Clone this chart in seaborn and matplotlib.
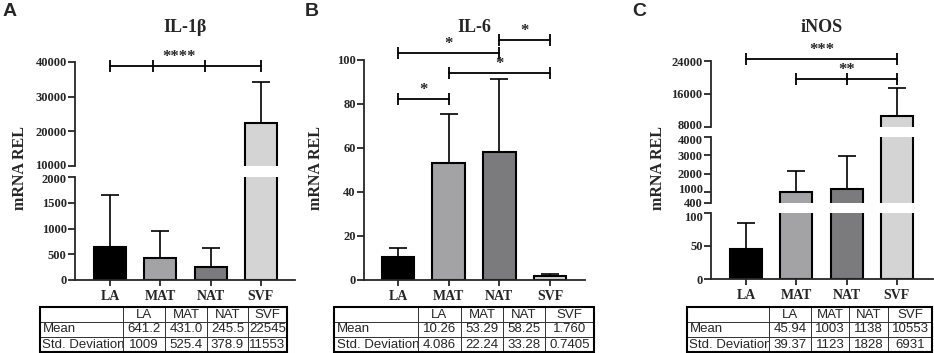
import numpy as np
import matplotlib
matplotlib.use("Agg")
import matplotlib.pyplot as plt
from matplotlib.patches import Rectangle
from matplotlib.transforms import ScaledTranslation
import seaborn as sns

groups = ["LA", "MAT", "NAT", "SVF"]
bar_colors = ["#000000", "#a3a3a7", "#7b7b7d", "#d4d4d4"]

il1b_mean = [641.2, 431.0, 245.5, 22545]
il1b_sd = [1009, 525.4, 378.9, 11553]
il6_mean = [10.26, 53.29, 58.25, 1.760]
il6_sd = [4.086, 22.24, 33.28, 0.7405]
inos_mean = [45.94, 1003, 1138, 10553]
inos_sd = [39.37, 1123, 1828, 6931]

W, H = 934, 353
LW = 1.3
SERIF = ["Liberation Serif", "DejaVu Serif"]
SANS = ["Liberation Sans", "DejaVu Sans"]

sns.set_style("ticks")
plt.rcParams["font.family"] = SERIF
plt.rcParams["font.weight"] = "bold"

fig = plt.figure(figsize=(W / 100, H / 100), dpi=100)


def rect(l, t, r, b):
    # pixel box (from top-left) -> figure fraction
    return [l / W, 1 - b / H, (r - l) / W, (b - t) / H]


def fmt(v):
    return str(int(round(v))) if v >= 1000 else f"{v:#.4g}"


def segment(box, xlim, means, sds, ylim, yticks, bottom):
    ax = fig.add_axes(rect(*box))
    sns.barplot(x=groups, y=means, hue=groups, palette=bar_colors, width=0.64,
                edgecolor="black", linewidth=1.5, legend=False, ax=ax)
    ax.errorbar(np.arange(4), means, yerr=[np.zeros(4), sds], fmt="none",
                ecolor="black", elinewidth=1.2, capsize=6.5, capthick=1.2, zorder=1)
    ax.set_yticks(yticks)
    ax.set_yticklabels([str(t) for t in yticks])
    ax.set_xlabel("")
    ax.set_ylabel("")
    ax.spines[["top", "right"]].set_visible(False)
    for s in ["left", "bottom"]:
        ax.spines[s].set_linewidth(LW)
    ax.tick_params(axis="y", length=5, width=LW, pad=1, labelsize=9)
    if bottom:
        ax.tick_params(axis="x", length=4.5, width=LW, pad=3, labelsize=10)
    else:
        ax.spines["bottom"].set_visible(False)
        ax.tick_params(axis="x", bottom=False, labelbottom=False)
    ax.patch.set_alpha(0)
    ax.set_xlim(xlim)
    ax.set_ylim(ylim)
    return ax


def nudge(ax, idx, dy):
    # shift one y tick label by dy pixels (positive = up)
    lab = ax.yaxis.get_major_ticks()[idx].label1
    lab.set_transform(lab.get_transform() + ScaledTranslation(0, dy / 100, fig.dpi_scale_trans))


def bracket(ax, x0, x1, y, stars, xs, inner=()):
    ax.plot([x0, x1], [y, y], color="black", lw=LW, clip_on=False)
    xm = [x0, x1, *inner]
    ax.plot(xm, [y] * len(xm), ls="none", marker="|", ms=8, mew=LW,
            color="black", clip_on=False)
    ax.annotate(stars, (xs, y), xytext=(0, 0.5), textcoords="offset points",
                ha="center", va="bottom", fontsize=12, fontweight="bold",
                annotation_clip=False)


def table(l, edges, means, sds):
    r = edges[-1]
    ax = fig.add_axes(rect(l, 307, r, 352))
    ax.axis("off")
    widths = list(np.diff(edges) / (r - l))
    cells = [[""] + groups,
             ["Mean"] + [fmt(v) for v in means],
             ["Std. Deviation"] + [fmt(v) for v in sds]]
    tb = ax.table(cellText=cells, colWidths=widths, cellLoc="center", bbox=[0, 0, 1, 1])
    tb.auto_set_font_size(False)
    tb.set_fontsize(9.5)
    for (i, j), cell in tb.get_celld().items():
        cell.set_linewidth(0.7)
        cell.set_edgecolor("#333333")
        t = cell.get_text()
        t.set_fontfamily(SANS)
        t.set_fontweight("normal")
        if j == 0:
            cell.PAD = 0.03
            t.set_ha("left")
    ax.add_patch(Rectangle((0, 0), 1, 1, transform=ax.transAxes, fill=False,
                           lw=1.5, ec="black", clip_on=False))


def labels(letter, lx, title, tx, ylx):
    fig.text(lx / W, 1 - 12 / H, letter, family=SANS, fontsize=14,
             fontweight="bold", ha="left", va="center")
    fig.text(tx / W, 1 - 28 / H, title, fontsize=13, fontweight="bold",
             ha="center", va="center")
    fig.text(ylx / W, 1 - 168 / H, "mRNA REL", fontsize=11.5, fontweight="bold",
             rotation=90, ha="center", va="center")


# Panel A: IL-1beta
xa = (-0.70, 3.68)
a_low = segment((75, 177, 295, 280), xa, il1b_mean, il1b_sd, (0, 2000),
                [0, 500, 1000, 1500, 2000], True)
a_top = segment((75, 62, 295, 166), xa, il1b_mean, il1b_sd, (10000, 40000),
                [10000, 20000, 30000, 40000], False)
nudge(a_low, -1, -1.8)
nudge(a_top, 0, 1.8)
bracket(a_top, 0, 3, 38850, "****", 1.37, inner=(0.85, 1.88))
a_top.set_xlim(xa)
a_top.set_ylim(10000, 40000)
labels("A", 3, "IL-1β", 185, 20)
table(40, [40, 123, 165, 207, 248, 287], il1b_mean, il1b_sd)

# Panel B: IL-6
xb = (-0.67, 3.69)
b_ax = segment((364, 60, 585, 280), xb, il6_mean, il6_sd, (0, 100),
               [0, 20, 40, 60, 80, 100], True)
bracket(b_ax, 0, 1, 82.3, "*", 0.5)
bracket(b_ax, 1, 3, 94.1, "*", 2)
bracket(b_ax, 0, 2, 103.2, "*", 1)
bracket(b_ax, 2, 3, 109.1, "*", 2.5)
b_ax.set_xlim(xb)
b_ax.set_ylim(0, 100)
labels("B", 305, "IL-6", 474, 316)
table(334, [334, 418, 461, 503, 545, 594], il6_mean, il6_sd)

# Panel C: iNOS
xc = (-0.70, 3.72)
c_low = segment((711, 213, 933, 279), xc, inos_mean, inos_sd, (0, 100),
                [0, 50, 100], True)
c_mid = segment((711, 137, 933, 203), xc, inos_mean, inos_sd, (400, 4000),
                [400, 1000, 2000, 3000, 4000], False)
c_top = segment((711, 61, 933, 127), xc, inos_mean, inos_sd, (8000, 24000),
                [8000, 16000, 24000], False)
nudge(c_top, 0, 2.5)
nudge(c_mid, -1, -2.5)
nudge(c_mid, 1, 3.5)
nudge(c_mid, 0, 0.5)
nudge(c_low, -1, -3.5)
bracket(c_top, 0, 3, 24485, "***", 1.5)
bracket(c_top, 1, 3, 19636, "**", 2, inner=(2,))
c_top.set_xlim(xc)
c_top.set_ylim(8000, 24000)
labels("C", 632, "iNOS", 822, 658)
table(687, [687, 769, 811, 849, 888, 932], inos_mean, inos_sd)

fig.savefig("out.png", dpi=100)
